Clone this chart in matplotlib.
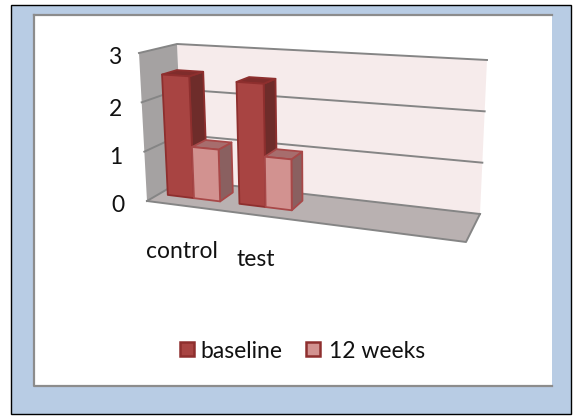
import numpy as np
import matplotlib
matplotlib.use("Agg")
import matplotlib.pyplot as plt
from matplotlib.patches import Polygon, Rectangle

plt.rcParams['font.family'] = ['Lato', 'DejaVu Sans']

# -----------------------------
# Data
# -----------------------------
categories = ["control", "test"]
series_names = ["baseline", "12 weeks"]
baseline = [2.5, 2.45]
weeks12 = [1.05, 1.0]
y_ticks = [0, 1, 2, 3]

# -----------------------------
# Box corners in pixels (u, depth, value)
# -----------------------------
FB_L = np.array([147, 201.0])
FB_R = np.array([466, 242.0])
BB_L = np.array([183, 180.0])
BB_R = np.array([480, 214.0])
FT_L = np.array([139, 53.0])
FT_R = np.array([473, 72.0])
BT_L = np.array([177, 44.0])
BT_R = np.array([487, 60.0])
V_MAX = 3.0


def proj(u, d, v):
    t = v / V_MAX
    bottom = (1-u)*(1-d)*FB_L + u*(1-d)*FB_R + (1-u)*d*BB_L + u*d*BB_R
    top = (1-u)*(1-d)*FT_L + u*(1-d)*FT_R + (1-u)*d*BT_L + u*d*BT_R
    return (1-t)*bottom + t*top


def poly(ax, pts, fc, ec='none', lw=0.0, z=2):
    ax.add_patch(Polygon(pts, closed=True, facecolor=fc, edgecolor=ec,
                         linewidth=lw, zorder=z, joinstyle='round'))


def bar3d(ax, u0, u1, val, front, top, side, edge, z):
    d0, d1 = 0.34, 0.74
    poly(ax, [proj(u1, d0, 0), proj(u1, d1, 0), proj(u1, d1, val), proj(u1, d0, val)],
         side, edge, 1.3, z)
    poly(ax, [proj(u0, d0, val), proj(u1, d0, val), proj(u1, d1, val), proj(u0, d1, val)],
         top, edge, 1.3, z)
    poly(ax, [proj(u0, d0, 0), proj(u1, d0, 0), proj(u1, d0, val), proj(u0, d0, val)],
         front, edge, 1.3, z)


fig = plt.figure(figsize=(5.73, 4.16), dpi=100)
ax = fig.add_axes([0, 0, 1, 1])
ax.set_xlim(0, 573)
ax.set_ylim(416, 0)
ax.axis('off')

# frame
ax.add_patch(Rectangle((10.5, 5), 560, 409, facecolor='#B8CCE4', edgecolor='black', linewidth=1.0))
ax.add_patch(Rectangle((34, 15.5), 518, 370.5, facecolor='white', edgecolor='none'))
ax.plot([34, 34, 552], [15, 386, 386], color='#8C8C8C', lw=1.6)
ax.plot([34, 552], [15, 15], color='#8C8C8C', lw=1.6)

# walls and floor
poly(ax, [BB_L, BB_R, BT_R, BT_L], '#F6EBEB')
poly(ax, [FB_L, BB_L, BT_L, FT_L], '#A5A2A2')
poly(ax, [FB_L, FB_R, BB_R, BB_L], '#B9B1B1')

# gridlines
for t in y_ticks:
    ax.plot(*zip(proj(0, 0, t), proj(0, 1, t), proj(1, 1, t)), color='#858585', lw=1.4, zorder=2.5)
ax.plot(*zip(FB_L, FB_R, BB_R), color='#858585', lw=1.4, zorder=2.5)

# bars
U0 = 0.0275
PITCH = 0.23
W = 0.084
for i in range(len(categories)):
    u = U0 + PITCH * i
    bar3d(ax, u, u + W, baseline[i], '#A84442', '#7F2C2B', '#6E2C2A', '#8E2F2E', 3 + i)
    bar3d(ax, u + W, u + 2*W, weeks12[i], '#D29290', '#A76D6D', '#8A6060', '#A84848', 3.5 + i)

# tick labels
tick_x = [118, 116, 116, 115]
tick_y = [205, 157, 110, 58]
for t, x, y in zip(y_ticks, tick_x, tick_y):
    ax.text(x, y, str(t), fontsize=16.5, ha='center', va='center', color='#111111')

cat_x = [182, 256]
cat_y = [252, 260]
for c, x, y in zip(categories, cat_x, cat_y):
    ax.text(x, y, c, fontsize=16.5, ha='center', va='center', color='#111111')

# legend
leg_x = [180, 306]
leg_text_x = [200, 329]
leg_fc = ['#A84442', '#D29290']
for name, x, tx, fc in zip(series_names, leg_x, leg_text_x, leg_fc):
    ax.add_patch(Rectangle((x, 342), 14, 14, facecolor=fc, edgecolor='#8E2F2E', linewidth=1.8))
    ax.text(tx, 351, name, fontsize=16.5, ha='left', va='center', color='#111111')

fig.savefig("out.png", dpi=100)
